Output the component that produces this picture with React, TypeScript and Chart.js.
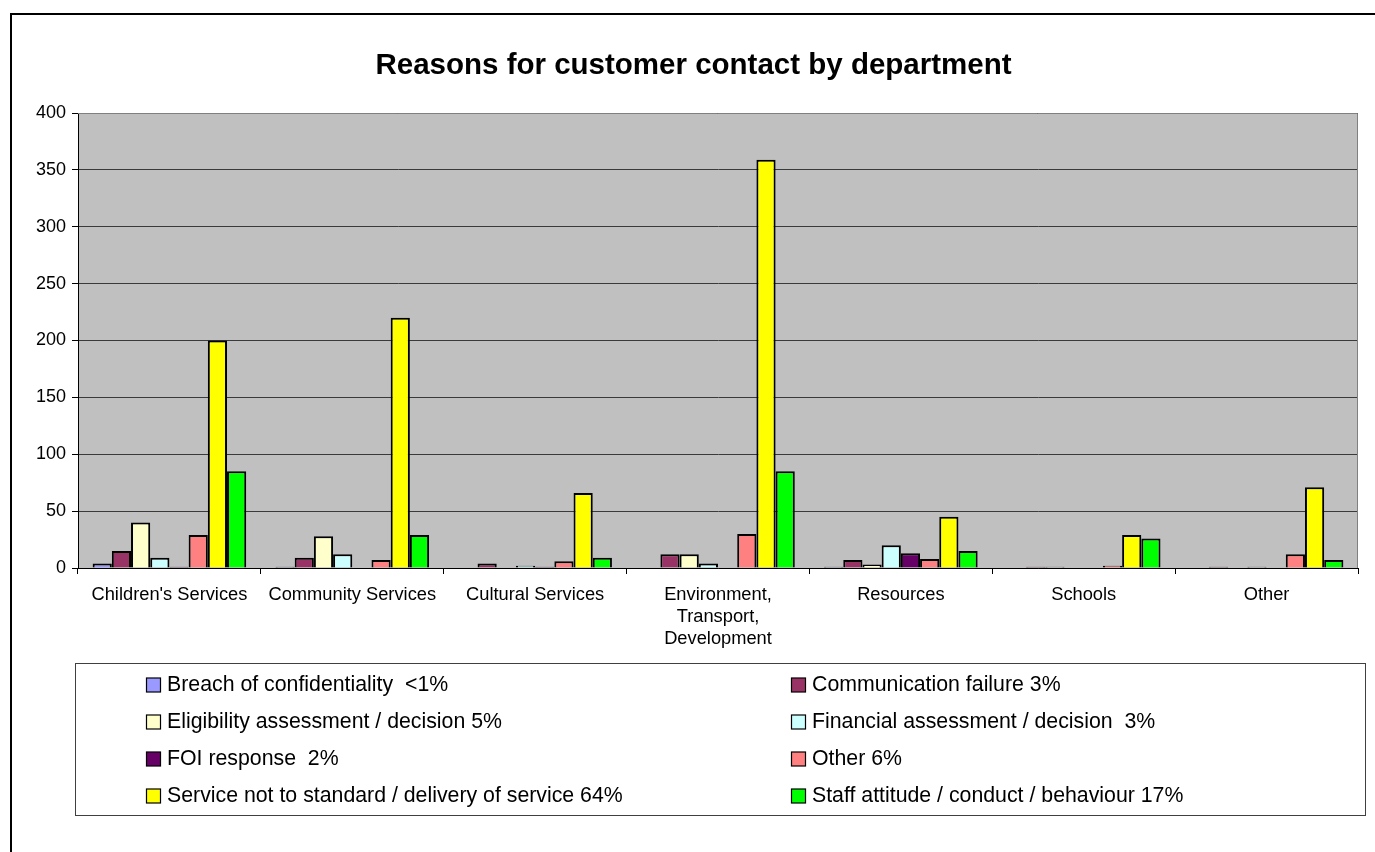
import React, { useEffect, useRef } from "react";
import { Chart, registerables } from "chart.js";

Chart.register(...registerables);

const FONT = '"Liberation Sans", Arial, sans-serif';

const titleText = "Reasons for customer contact by department";

const categories: string[][] = [
  ["Children's Services"],
  ["Community Services"],
  ["Cultural Services"],
  ["Environment,", "Transport,", "Development"],
  ["Resources"],
  ["Schools"],
  ["Other"],
];

const yTicks = [0, 50, 100, 150, 200, 250, 300, 350, 400];

const seriesLabels = [
  "Breach of confidentiality  <1%",
  "Communication failure 3%",
  "Eligibility assessment / decision 5%",
  "Financial assessment / decision  3%",
  "FOI response  2%",
  "Other 6%",
  "Service not to standard / delivery of service 64%",
  "Staff attitude / conduct / behaviour 17%",
];

const seriesColors = [
  "#9999FF",
  "#993366",
  "#FFFFCC",
  "#CCFFFF",
  "#660066",
  "#FF8080",
  "#FFFF00",
  "#00FF00",
];

const breach = [4, 1, 0, 0, 1, 0, 0];
const communication = [15, 9, 4, 12, 7, 1, 1];
const eligibility = [40, 28, 0, 12, 3, 1, 0];
const financial = [9, 12, 2, 4, 20, 0, 1];
const foi = [1, 0, 1, 0, 13, 0, 0];
const otherReason = [29, 7, 6, 30, 8, 2, 12];
const serviceStandard = [200, 220, 66, 359, 45, 29, 71];
const staffAttitude = [85, 29, 9, 85, 15, 26, 7];

const seriesValues = [
  breach,
  communication,
  eligibility,
  financial,
  foi,
  otherReason,
  serviceStandard,
  staffAttitude,
];

const framePlugin = {
  id: "frame",
  beforeDraw(chart: any) {
    const { ctx, chartArea: a } = chart;
    ctx.save();
    ctx.fillStyle = "#ffffff";
    ctx.fillRect(0, 0, chart.width, chart.height);
    // outer chart border (left + top visible)
    ctx.strokeStyle = "#000000";
    ctx.lineWidth = 2;
    ctx.beginPath();
    ctx.moveTo(11, chart.height + 10);
    ctx.lineTo(11, 14);
    ctx.lineTo(chart.width + 10, 14);
    ctx.stroke();
    // plot area background
    ctx.fillStyle = "#C0C0C0";
    ctx.fillRect(a.left, a.top, a.right - a.left, a.bottom - a.top);
    ctx.restore();
  },
  beforeDatasetsDraw(chart: any) {
    const { ctx, chartArea: a } = chart;
    ctx.save();
    ctx.strokeStyle = "#808080";
    ctx.lineWidth = 1;
    ctx.beginPath();
    ctx.moveTo(a.left, a.top + 0.5);
    ctx.lineTo(a.right - 0.5, a.top + 0.5);
    ctx.lineTo(a.right - 0.5, a.bottom);
    ctx.stroke();
    ctx.restore();
  },
  afterDraw(chart: any) {
    const { ctx } = chart;
    ctx.save();
    // title
    ctx.fillStyle = "#000000";
    ctx.font = `bold 29.5px ${FONT}`;
    ctx.textAlign = "center";
    ctx.textBaseline = "middle";
    ctx.fillText(titleText, 693.5, 66);
    // legend box
    ctx.strokeStyle = "#404040";
    ctx.lineWidth = 1;
    ctx.strokeRect(75.5, 663.5, 1290, 152);
    ctx.font = `21.3px ${FONT}`;
    ctx.textAlign = "left";
    chart.data.datasets.forEach((ds: any, i: number) => {
      const col = i % 2;
      const row = Math.floor(i / 2);
      const sx = col === 0 ? 146 : 791;
      const cy = 684.5 + row * 37;
      ctx.fillStyle = ds.backgroundColor;
      ctx.fillRect(sx + 0.5, cy - 6.5, 14, 14);
      ctx.strokeStyle = "#000000";
      ctx.lineWidth = 1.2;
      ctx.strokeRect(sx + 0.5, cy - 6.5, 14, 14);
      ctx.fillStyle = "#000000";
      ctx.fillText(ds.label, sx + 21, cy + 1);
    });
    ctx.restore();
  },
};

export default function App() {
  const canvasRef = useRef<HTMLCanvasElement | null>(null);

  useEffect(() => {
    if (!canvasRef.current) return;
    const chart = new Chart(canvasRef.current, {
      type: "bar",
      data: {
        labels: categories,
        datasets: seriesValues.map((vals, i) => ({
          label: seriesLabels[i],
          data: vals,
          backgroundColor: seriesColors[i],
          borderColor: "#000000",
          borderWidth: 2,
          categoryPercentage: 0.84,
          barPercentage: 1,
        })),
      },
      options: {
        responsive: true,
        maintainAspectRatio: false,
        animation: false,
        devicePixelRatio: 1,
        layout: { padding: { left: 0, top: 113, right: 17, bottom: 194 } },
        plugins: {
          legend: { display: false },
          title: { display: false },
          tooltip: { enabled: false },
        },
        scales: {
          x: {
            afterFit: (s: any) => {
              s.height = 90;
            },
            grid: {
              offset: true,
              drawOnChartArea: false,
              drawTicks: true,
              tickLength: 6,
              tickColor: "#000000",
            },
            border: { color: "#000000", width: 1 },
            ticks: {
              color: "#000000",
              font: { family: FONT, size: 18.3, lineHeight: 22 / 18.3 },
              padding: 10,
              maxRotation: 0,
              autoSkip: false,
            },
          },
          y: {
            min: 0,
            max: 400,
            afterFit: (s: any) => {
              s.width = 78;
            },
            afterBuildTicks: (s: any) => {
              s.ticks = yTicks.map((v) => ({ value: v }));
            },
            grid: {
              color: "#3a3a3a",
              lineWidth: 1,
              drawTicks: true,
              tickLength: 6,
              tickColor: "#000000",
            },
            border: { color: "#000000", width: 1 },
            ticks: {
              color: "#000000",
              font: { family: FONT, size: 18 },
              padding: 6,
            },
          },
        },
      },
      plugins: [framePlugin],
    });
    return () => chart.destroy();
  }, []);

  return (
    <div
      style={{
        position: "absolute",
        left: 0,
        top: 0,
        width: 1375,
        height: 852,
        overflow: "hidden",
        background: "#fff",
      }}
    >
      <canvas ref={canvasRef} />
    </div>
  );
}
